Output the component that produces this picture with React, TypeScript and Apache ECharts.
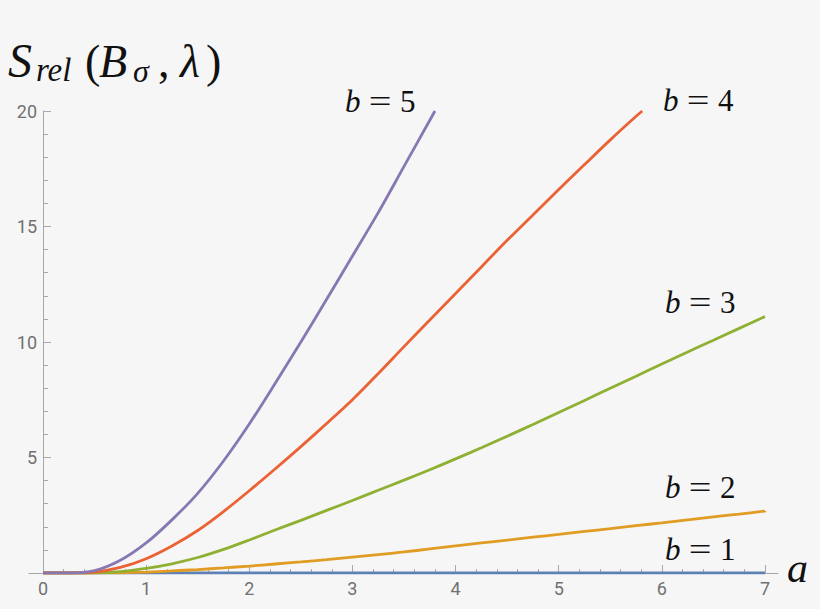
import React, { useEffect, useRef } from 'react';
import * as echarts from 'echarts';

// curve samples: a values and S_rel values per b
const aFull = [0, 0.25, 0.5, 0.75, 1, 1.25, 1.5, 1.75, 2, 2.25, 2.5, 2.75, 3, 3.25, 3.5, 3.75, 4, 4.25, 4.5, 4.75, 5, 5.25, 5.5, 5.75, 6, 6.25, 6.5, 6.75, 7];

const sB1 = [0, 0, 0, 0, 0, 0, 0, 0, 0, 0, 0, 0, 0, 0, 0, 0, 0, 0, 0, 0, 0, 0, 0, 0, 0, 0, 0, 0, 0];

const sB2 = [0, 0, 0, 0.01, 0.04, 0.09, 0.15, 0.22, 0.3, 0.39, 0.48, 0.58, 0.69, 0.8, 0.91, 1.04, 1.17, 1.3, 1.42, 1.55, 1.67, 1.8, 1.92, 2.05, 2.17, 2.3, 2.43, 2.55, 2.68];

const sB3 = [0, 0, 0.01, 0.06, 0.2, 0.4, 0.67, 1.02, 1.43, 1.86, 2.28, 2.71, 3.14, 3.58, 4.02, 4.47, 4.94, 5.42, 5.92, 6.43, 6.95, 7.47, 8.0, 8.52, 9.05, 9.57, 10.08, 10.59, 11.1];

const aB4 = [0, 0.25, 0.5, 0.75, 1, 1.25, 1.5, 1.75, 2, 2.25, 2.5, 2.75, 3, 3.25, 3.5, 3.75, 4, 4.25, 4.5, 4.75, 5, 5.25, 5.5, 5.75, 5.81];
const sB4 = [0, 0, 0.04, 0.24, 0.62, 1.17, 1.84, 2.66, 3.56, 4.5, 5.47, 6.47, 7.5, 8.63, 9.8, 10.95, 12.1, 13.25, 14.4, 15.5, 16.6, 17.68, 18.75, 19.77, 20];

const aB5 = [0, 0.25, 0.5, 0.75, 1, 1.25, 1.5, 1.75, 2, 2.25, 2.5, 2.75, 3, 3.25, 3.5, 3.75, 3.8];
const sB5 = [0, 0, 0.1, 0.55, 1.3, 2.3, 3.45, 4.85, 6.45, 8.2, 10.0, 11.85, 13.72, 15.6, 17.6, 19.6, 20];

const bNames = ['1', '2', '3', '4', '5'];
const xTicks = [0, 1, 2, 3, 4, 5, 6, 7];
const yTicks = [5, 10, 15, 20];

const colors = ['#5E81B5', '#E19C24', '#8FB032', '#EB6235', '#8778B3'];
const serif = "'Liberation Serif', 'DejaVu Serif', serif";
const axisGray = '#a8a8a8';
const labelGray = '#717171';

const zip = (a: number[], s: number[]) => a.map((v, i) => [v, s[i]]);

// text piece with its alphabetic baseline at `base`
const piece = (text: string, x: number, base: number, size: number, italic: boolean, align = 'left', scaleX = 1) => ({
  type: 'text',
  x,
  y: base - 0.34 * size,
  scaleX,
  silent: true,
  style: {
    text,
    fill: '#111',
    font: `${italic ? 'italic ' : ''}${size}px ${serif}`,
    textAlign: align,
    textVerticalAlign: 'middle',
    verticalAlign: 'middle'
  }
});

const App: React.FC = () => {
  const chartRef = useRef<HTMLDivElement>(null);

  useEffect(() => {
    if (!chartRef.current) return;
    document.body.style.margin = '0';
    const chart = echarts.init(chartRef.current, undefined, { renderer: 'svg' });

    const curves = [zip(aFull, sB1), zip(aFull, sB2), zip(aFull, sB3), zip(aB4, sB4), zip(aB5, sB5)];

    // title S_rel(B_sigma, lambda)
    const title = [
      piece('S', 8, 77, 48, true),
      piece('rel', 36, 81, 33, true),
      piece('(', 85, 77, 46, false),
      piece('B', 99, 77, 46, true),
      piece('σ', 133, 82, 32, true),
      piece(',', 158, 77, 46, false),
      piece('λ', 180, 77, 46, true),
      piece(')', 206, 77, 46, false)
    ];

    // curve labels b = n
    const labelPos = [
      { x: 665, base: 560 },
      { x: 665, base: 498 },
      { x: 665, base: 313 },
      { x: 663, base: 111 },
      { x: 345, base: 112 }
    ];
    const labels = labelPos.flatMap((p, i) => [
      piece('b', p.x, p.base, 31, true),
      piece('=', p.x + 35, p.base, 31, false, 'center', 1.3),
      piece(bNames[i], p.x + 55, p.base, 31, false)
    ]);

    const option: echarts.EChartsOption = {
      animation: false,
      backgroundColor: '#f6f6f6',
      grid: [
        { left: 43, right: 55, top: 111, bottom: 36 },
        { left: 29, right: 42, top: 111, bottom: 36 }
      ],
      xAxis: [
        {
          type: 'value',
          gridIndex: 0,
          min: 0,
          max: 7,
          interval: 1,
          axisLine: { show: false },
          axisTick: { show: true, inside: true, length: 8, lineStyle: { color: axisGray, width: 1 } },
          minorTick: { show: true, splitNumber: 5, length: 4, lineStyle: { color: axisGray, width: 1 } },
          axisLabel: {
            color: labelGray,
            fontFamily: 'Roboto',
            fontSize: 18,
            margin: 6,
            formatter: (v: number) => (xTicks.includes(v) ? String(v) : '')
          },
          splitLine: { show: false }
        },
        {
          type: 'value',
          gridIndex: 1,
          min: 0,
          max: 1,
          axisLine: { show: true, onZero: false, lineStyle: { color: axisGray, width: 1 } },
          axisTick: { show: false },
          axisLabel: { show: false },
          splitLine: { show: false }
        }
      ],
      yAxis: [
        {
          type: 'value',
          gridIndex: 0,
          min: 0,
          max: 20,
          interval: 5,
          axisLine: { show: true, onZero: false, lineStyle: { color: axisGray, width: 1 } },
          axisTick: { show: true, inside: true, length: 8, lineStyle: { color: axisGray, width: 1 } },
          minorTick: { show: true, splitNumber: 5, length: 5, lineStyle: { color: axisGray, width: 1 } },
          axisLabel: {
            color: labelGray,
            fontFamily: 'Roboto',
            fontSize: 18,
            margin: 6,
            formatter: (v: number) => (yTicks.includes(v) ? String(v) : '')
          },
          splitLine: { show: false }
        },
        { type: 'value', gridIndex: 1, min: 0, max: 1, show: false }
      ],
      series: curves.map((data, i) => ({
        name: 'b = ' + bNames[i],
        type: 'line',
        xAxisIndex: 0,
        yAxisIndex: 0,
        data,
        symbol: 'none',
        smooth: 0.3,
        lineStyle: { color: colors[i], width: 2.8 },
        z: 2 + i
      })),
      graphic: [
        ...title,
        ...labels,
        piece('a', 787, 582, 42, true)
      ]
    };

    // eslint-disable-next-line @typescript-eslint/no-explicit-any
    chart.setOption(option as any);

    return () => {
      chart.dispose();
    };
  }, []);

  return <div ref={chartRef} style={{ width: 820, height: 609 }} />;
};

export default App;
